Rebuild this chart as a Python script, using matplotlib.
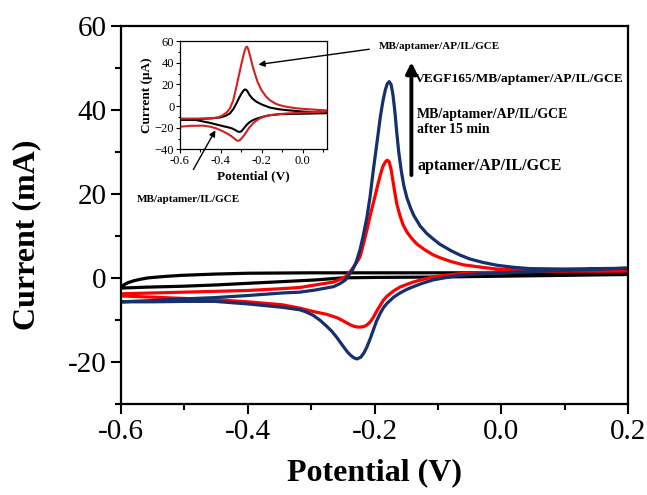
import matplotlib
matplotlib.use("Agg")
import matplotlib.pyplot as plt
from matplotlib.ticker import MultipleLocator, FuncFormatter

plt.rcParams['font.family'] = ['Liberation Serif', 'DejaVu Serif']

# ---- main panel data (V, mA) ----
black_fwd_v = [-0.6, -0.597, -0.59, -0.58, -0.57, -0.557, -0.53, -0.504, -0.452, -0.4, -0.3, -0.2,
               -0.1, 0.0, 0.1, 0.2]
black_fwd_i = [-2.4, -1.8, -1.2, -0.7, -0.35, 0.0, 0.35, 0.6, 0.9, 1.1, 1.2, 1.2,
               1.2, 1.2, 1.2, 1.1]
black_rev_v = [0.2, 0.1, 0.0, -0.1, -0.2, -0.25, -0.294, -0.346, -0.4, -0.452, -0.504, -0.557,
               -0.594, -0.6]
black_rev_i = [0.8, 0.6, 0.4, 0.2, 0.1, 0.0, -0.5, -0.9, -1.3, -1.7, -2.0, -2.2,
               -2.4, -2.4]

red_fwd_v = [-0.6, -0.55, -0.5, -0.45, -0.4, -0.35, -0.318, -0.294, -0.265, -0.255, -0.246, -0.24,
             -0.235, -0.229, -0.223, -0.218, -0.212, -0.207, -0.202, -0.196, -0.191, -0.187, -0.183,
             -0.18, -0.177, -0.174, -0.171, -0.168, -0.165, -0.16, -0.155, -0.149, -0.141, -0.133,
             -0.12, -0.108, -0.097, -0.08, -0.06, -0.03, -0.007, 0.045, 0.1, 0.15, 0.2]
red_fwd_i = [-3.8, -3.6, -3.4, -3.2, -3.0, -2.6, -2.3, -1.7, -1.0, -0.4, 0.3, 1.2,
             2.2, 3.5, 5.0, 7.8, 11.5, 14.8, 17.8, 21.5, 24.5, 26.5, 27.6,
             28.0, 27.6, 25.8, 23.0, 20.2, 17.6, 14.8, 12.6, 10.9, 9.3, 8.0,
             6.6, 5.5, 4.8, 3.9, 3.1, 2.5, 2.1, 1.9, 1.8, 1.7, 1.7]
red_rev_v = [0.2, 0.1, 0.0, -0.04, -0.065, -0.09, -0.108, -0.125, -0.139, -0.15, -0.16, -0.17,
             -0.18, -0.186, -0.191, -0.197, -0.202, -0.207, -0.212, -0.217, -0.222, -0.228, -0.233,
             -0.238, -0.243, -0.25, -0.259, -0.275, -0.297, -0.318, -0.346, -0.4, -0.452, -0.5,
             -0.55, -0.6]
red_rev_i = [1.7, 1.6, 1.4, 1.2, 1.0, 0.6, 0.2, -0.4, -1.0, -1.6, -2.2, -3.1,
             -4.3, -5.3, -6.5, -8.0, -9.4, -10.5, -11.2, -11.6, -11.7, -11.7, -11.5,
             -11.2, -10.8, -10.2, -9.5, -8.7, -8.0, -7.2, -6.4, -5.7, -5.2, -4.9,
             -4.6, -4.3]

blue_fwd_v = [-0.6, -0.55, -0.5, -0.452, -0.4, -0.346, -0.318, -0.294, -0.265, -0.255, -0.246, -0.24,
              -0.235, -0.229, -0.223, -0.218, -0.212, -0.207, -0.202, -0.196, -0.191, -0.187, -0.183,
              -0.18, -0.177, -0.174, -0.171, -0.168, -0.165, -0.162, -0.158, -0.154, -0.149, -0.143,
              -0.138, -0.128, -0.118, -0.108, -0.097, -0.08, -0.065, -0.05, -0.03, -0.007, 0.02,
              0.045, 0.1, 0.15, 0.2]
blue_fwd_i = [-5.7, -5.4, -5.0, -4.7, -4.2, -3.6, -3.4, -2.9, -2.1, -1.4, -0.5, 0.8,
              1.8, 3.8, 6.7, 10.0, 14.5, 19.5, 25.7, 32.5, 38.3, 42.0, 44.8,
              46.2, 46.7, 46.0, 43.5, 39.5, 34.5, 30.0, 25.5, 22.0, 19.0, 16.5,
              14.8, 12.3, 10.6, 9.3, 8.0, 6.5, 5.4, 4.5, 3.7, 3.0, 2.5,
              2.2, 2.1, 2.2, 2.3]
blue_rev_v = [0.2, 0.1, 0.0, -0.04, -0.065, -0.09, -0.108, -0.125, -0.139, -0.15, -0.16, -0.17,
              -0.18, -0.186, -0.191, -0.197, -0.202, -0.207, -0.212, -0.217, -0.222, -0.228, -0.233,
              -0.238, -0.243, -0.25, -0.259, -0.267, -0.275, -0.286, -0.297, -0.31, -0.318, -0.346,
              -0.4, -0.452, -0.5, -0.55, -0.6]
blue_rev_i = [2.3, 1.8, 1.2, 0.9, 0.6, 0.0, -0.5, -1.3, -2.1, -2.8, -3.6, -4.6,
              -6.0, -7.1, -8.4, -10.3, -12.4, -14.5, -16.4, -17.9, -18.9, -19.3, -19.0,
              -18.4, -17.6, -16.2, -14.3, -12.8, -11.6, -10.1, -8.9, -8.0, -7.6, -7.0,
              -6.2, -5.6, -5.6, -5.7, -5.7]

# ---- inset data (V, uA) ----
in_red_fwd_v = [-0.6, -0.5, -0.44, -0.41, -0.389, -0.37, -0.356, -0.34, -0.324, -0.31, -0.299, -0.29,
                -0.283, -0.277, -0.272, -0.267, -0.262, -0.256, -0.245, -0.234, -0.22, -0.202, -0.18,
                -0.161, -0.13, -0.1, -0.08, -0.04, 0.0, 0.06, 0.12]
in_red_fwd_i = [-11.5, -11.5, -11.2, -10.2, -8.3, -5.5, -2.2, 5.0, 17.8, 30.0, 39.4, 46.5,
                51.7, 54.3, 54.8, 53.0, 49.5, 45.5, 37.0, 30.0, 22.0, 14.8, 9.0,
                5.5, 2.0, 0.2, -0.6, -1.8, -2.5, -3.3, -4.0]
in_red_rev_v = [0.12, 0.0, -0.08, -0.161, -0.19, -0.21, -0.228, -0.243, -0.26, -0.275, -0.288, -0.299,
                -0.307, -0.315, -0.323, -0.335, -0.35, -0.37, -0.395, -0.421, -0.45, -0.486, -0.55,
                -0.6]
in_red_rev_i = [-5.0, -6.0, -6.8, -8.3, -9.6, -11.4, -13.5, -16.0, -19.5, -23.7, -27.3, -29.8,
                -31.3, -32.0, -31.6, -29.8, -27.5, -25.2, -22.8, -20.6, -19.0, -18.0, -18.2,
                -19.0]
in_blk_fwd_v = [-0.6, -0.5, -0.45, -0.405, -0.38, -0.356, -0.34, -0.324, -0.31, -0.299, -0.29, -0.283,
                -0.276, -0.268, -0.259, -0.245, -0.226, -0.2, -0.161, -0.12, -0.08, 0.0, 0.12]
in_blk_fwd_i = [-12.5, -11.8, -11.3, -10.5, -9.2, -6.8, -3.0, 2.5, 8.0, 11.7, 14.2, 15.4,
                15.0, 13.0, 10.0, 6.8, 4.0, 1.5, -1.3, -2.8, -3.7, -5.0, -6.2]
in_blk_rev_v = [0.12, 0.0, -0.112, -0.16, -0.194, -0.22, -0.243, -0.26, -0.275, -0.29, -0.3, -0.308,
                -0.318, -0.33, -0.345, -0.365, -0.389, -0.42, -0.454, -0.519, -0.6]
in_blk_rev_i = [-6.5, -7.0, -7.4, -8.4, -9.8, -11.2, -12.9, -14.8, -17.5, -21.0, -23.3, -23.8,
                -23.4, -22.0, -20.6, -19.5, -18.5, -17.0, -15.4, -12.9, -12.5]

navy = '#14306e'
vfmt = FuncFormatter(lambda v, p: f"{v:.1f}".replace('-0.0', '0.0'))

fig = plt.figure(figsize=(6.47, 4.95), dpi=100)
ax = fig.add_axes([0.187, 0.184, 0.784, 0.764])

kw = dict(lw=2.3, solid_joinstyle='round', solid_capstyle='round')
ax.plot(black_fwd_v + black_rev_v, black_fwd_i + black_rev_i, color='black', **kw)
ax.plot(red_fwd_v + red_rev_v, red_fwd_i + red_rev_i, color='#ff0000', **kw)
ax.plot(blue_fwd_v + blue_rev_v, blue_fwd_i + blue_rev_i, color=navy, **kw)

ax.set_xlim(-0.6, 0.2)
ax.set_ylim(-30, 60)
ax.xaxis.set_major_locator(MultipleLocator(0.2))
ax.xaxis.set_minor_locator(MultipleLocator(0.1))
ax.yaxis.set_major_locator(MultipleLocator(20))
ax.yaxis.set_minor_locator(MultipleLocator(10))
ax.xaxis.set_major_formatter(vfmt)
ax.yaxis.set_major_formatter(FuncFormatter(lambda v, p: f"{v:.0f}"))
ax.tick_params(which='both', direction='out', top=False, right=False, width=1.5, labelsize=21)
ax.tick_params(which='major', length=7)
ax.tick_params(which='minor', length=4)
for s in ax.spines.values():
    s.set_linewidth(1.6)
ax.set_xlabel('Potential (V)', fontsize=23, fontweight='bold', labelpad=10)
ax.set_ylabel('Current (mA)', fontsize=23, fontweight='bold')
ax.yaxis.set_label_coords(-0.158, 0.447)

# annotations
ax.annotate('', xy=(-0.142, 52.0), xytext=(-0.142, 23.8),
            arrowprops=dict(arrowstyle='-|>', color='black', lw=2.8, mutation_scale=16))
ax.text(-0.136, 47.4, 'VEGF165/MB/aptamer/AP/IL/GCE', fontsize=9.7, fontweight='bold', va='center')
ax.text(-0.133, 38.8, 'MB/aptamer/AP/IL/GCE', fontsize=10, fontweight='bold', va='center')
ax.text(-0.133, 35.2, 'after 15 min', fontsize=10, fontweight='bold', va='center')
ax.text(-0.133, 26.7, 'aptamer/AP/IL/GCE', fontsize=11.5, fontweight='bold', va='center')
ax.text(-0.193, 55.0, 'MB/aptamer/AP/IL/GCE', fontsize=8, fontweight='bold', va='center')
ax.text(-0.575, 18.6, 'MB/aptamer/IL/GCE', fontsize=8, fontweight='bold', va='center')

# inset
ins = fig.add_axes([0.278, 0.698, 0.228, 0.219])
ins.plot(in_blk_fwd_v + in_blk_rev_v, in_blk_fwd_i + in_blk_rev_i, color='black', lw=1.5,
         solid_joinstyle='round')
ins.plot(in_red_fwd_v + in_red_rev_v, in_red_fwd_i + in_red_rev_i, color='#d42020', lw=1.5,
         solid_joinstyle='round')
ins.set_xlim(-0.6, 0.12)
ins.set_ylim(-40, 60)
ins.xaxis.set_major_locator(MultipleLocator(0.2))
ins.xaxis.set_minor_locator(MultipleLocator(0.1))
ins.yaxis.set_major_locator(MultipleLocator(20))
ins.yaxis.set_minor_locator(MultipleLocator(10))
ins.xaxis.set_major_formatter(vfmt)
ins.tick_params(which='both', direction='out', top=False, right=False, width=0.8, labelsize=9, pad=1)
ins.tick_params(which='major', length=3)
ins.tick_params(which='minor', length=1.8)
for s in ins.spines.values():
    s.set_linewidth(0.9)
ins.set_xlabel('Potential (V)', fontsize=9.5, fontweight='bold', labelpad=2)
ins.set_ylabel('Current (\u03bcA)', fontsize=9.5, fontweight='bold', labelpad=1)

# arrows from labels into inset
ins.annotate('', xy=(-0.23, 38.0), xycoords='data', xytext=(-0.204, 54.5), textcoords=ax.transData,
             arrowprops=dict(arrowstyle='-|>', color='black', lw=1.0, mutation_scale=9))
ins.annotate('', xy=(-0.42, -20.0), xycoords='data', xytext=(-0.488, 25.2), textcoords=ax.transData,
             arrowprops=dict(arrowstyle='-|>', color='black', lw=1.0, mutation_scale=9))

fig.savefig('out.png', dpi=100)
